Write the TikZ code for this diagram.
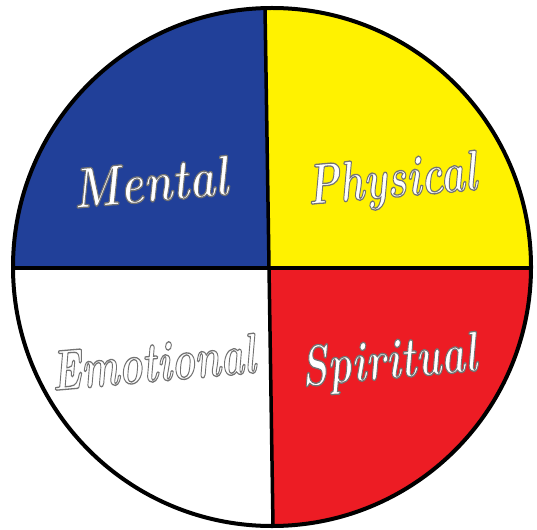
\documentclass[tikz,border=0pt]{standalone}
\usepackage{graphicx}
\definecolor{mentalblue}{RGB}{33,64,153}
\definecolor{physyellow}{RGB}{255,242,0}
\definecolor{spiritred}{RGB}{237,28,36}

\tikzset{
  quarter/.style={text=white, font=\fontsize{44}{44}\selectfont\bfseries\itshape, rotate=5},
  rim/.style={draw=black, line width=4pt}
}
% white letters with a thin grey edge (fill and stroke render mode)
\newcommand{\brushword}[2][1]{\scalebox{#1}[1.3]{\special{pdf:literal direct 2 Tr 1 w 0.45 G}#2\special{pdf:literal direct 0 Tr}}}

\begin{document}
\begin{tikzpicture}[x=1pt,y=-1pt]
  \useasboundingbox (0,0) rectangle (537,529);

  \coordinate (c) at (272,267);

  % coloured quarters
  \begin{scope}
    \clip (c) circle (259pt);
    \fill[mentalblue] (0,0) -- (265,0) -- (269,268) -- (0,268) -- cycle;
    \fill[physyellow] (265,0) -- (537,0) -- (537,268) -- (269,268) -- cycle;
    \fill[spiritred] (269,268) -- (537,268) -- (537,540) -- (273,540) -- cycle;
  \end{scope}

  % dividing lines and rim
  \coordinate (top) at (265,8);
  \coordinate (bot) at (273,526);
  \coordinate (left) at (13,268);
  \coordinate (right) at (531,268);
  \draw[line width=3.5pt] (top) -- (bot);
  \draw[line width=3.5pt] (left) -- (right);
  \draw[rim] (c) circle (259pt);

  \node[quarter] (mental) at (150,182) {\brushword{Mental}};
  \node[quarter] (physical) at (392,183) {\brushword[0.93]{Physical}};
  \node[quarter] (emotional) at (153,362) {\brushword[0.9]{Emotional}};
  \node[quarter] (spiritual) at (389,364) {\brushword[0.92]{Spiritual}};
\end{tikzpicture}
\end{document}
